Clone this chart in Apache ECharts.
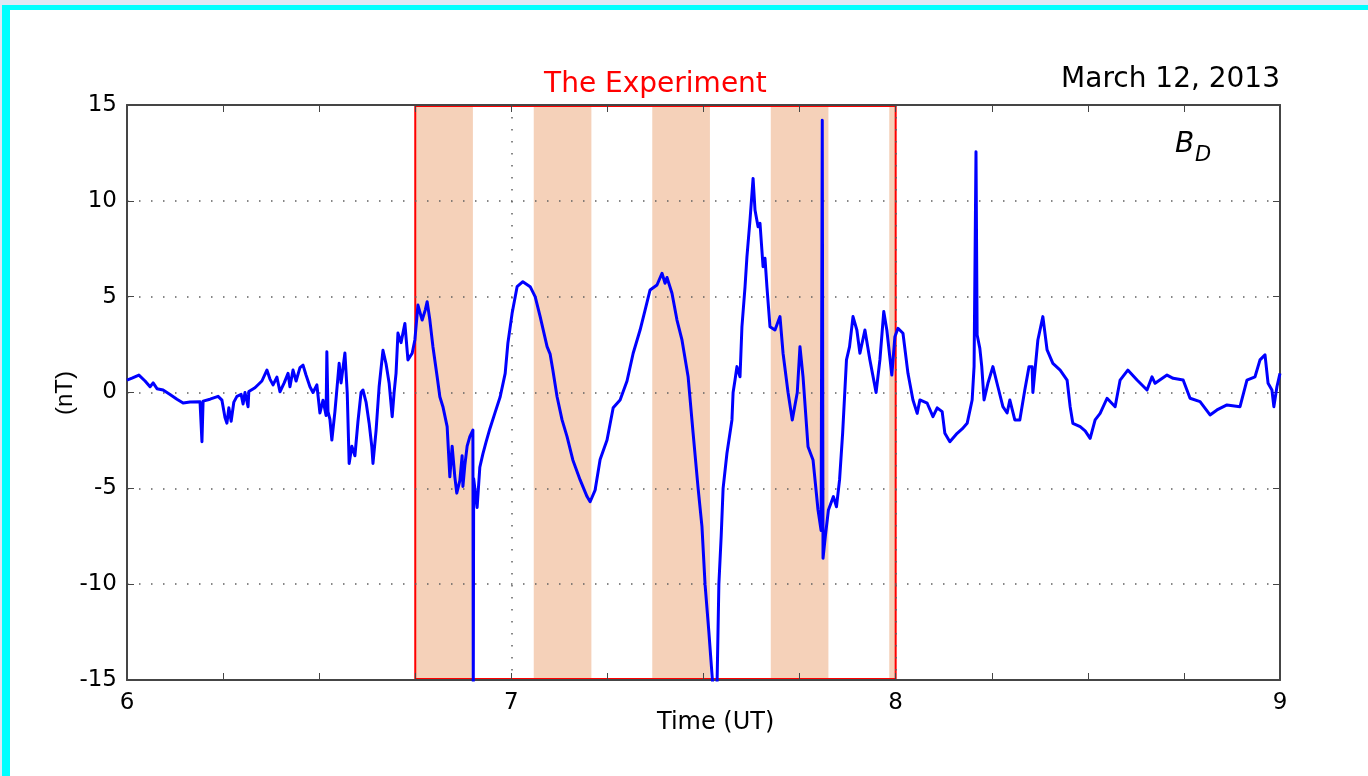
<!DOCTYPE html>
<html>
<head>
<meta charset="utf-8">
<script src="https://cdn.jsdelivr.net/npm/echarts@6/dist/echarts.min.js"></script>
<style>
  html, body { margin: 0; padding: 0; width: 1368px; height: 776px; overflow: hidden; background: #dfe8f4; }
  #frame { position: absolute; left: 2px; top: 5px; width: 1358px; height: 767px; background: #ffffff;
           border-left: 8px solid #00ffff; border-top: 5px solid #00ffff; border-bottom: 2px solid #c8ffff; }
  #chart { position: absolute; left: 0; top: 0; width: 1368px; height: 776px; }
</style>
</head>
<body>
<div id="frame"></div>
<div id="chart"></div>
<script>
// ---- data (time in decimal hours UT, B_D in nT) ----
const bdPre = [
  [6.000,0.65],[6.013,0.75],[6.031,0.91],[6.047,0.6],[6.060,0.3],[6.068,0.5],[6.078,0.2],[6.094,0.13],
  [6.112,-0.1],[6.130,-0.35],[6.146,-0.55],[6.164,-0.5],[6.190,-0.48],[6.195,-2.57],[6.198,-0.45],
  [6.216,-0.35],[6.237,-0.2],[6.247,-0.4],[6.255,-1.3],[6.260,-1.6],[6.265,-0.8],[6.271,-1.5],[6.278,-0.5],
  [6.286,-0.2],[6.297,-0.1],[6.302,-0.6],[6.307,0.0],[6.315,-0.74],[6.317,0.05],[6.333,0.25],[6.351,0.6],
  [6.364,1.17],[6.372,0.7],[6.380,0.4],[6.390,0.8],[6.398,0.04],[6.409,0.5],[6.419,1.0],[6.424,0.3],
  [6.432,1.17],[6.440,0.6],[6.450,1.3],[6.458,1.43],[6.466,0.9],[6.476,0.3],[6.484,0.0],[6.494,0.4],
  [6.502,-1.07],[6.510,-0.4],[6.518,-1.2],[6.520,2.13],[6.523,-1.0],[6.528,-1.4],[6.533,-2.48],[6.541,-1.0],
  [6.552,1.52],[6.557,0.5],[6.567,2.06],[6.573,0.0],[6.578,-3.7],[6.585,-2.8],[6.593,-3.3],[6.601,-1.5],
  [6.609,0.0],[6.614,0.13],[6.622,-0.5],[6.630,-1.6],[6.637,-2.83],[6.640,-3.7],[6.648,-2.0],[6.656,0.3],
  [6.666,2.2],[6.674,1.5],[6.682,0.5],[6.690,-1.26],[6.695,0.0],[6.700,1.0],[6.705,3.1],[6.713,2.6],
  [6.723,3.6],[6.731,1.7],[6.742,2.05],[6.749,2.74]
];
const bdExperiment = [
  [6.757,4.56],[6.768,3.78],[6.776,4.3],[6.781,4.74],[6.788,3.78],[6.796,2.39],[6.807,0.82],[6.814,-0.22],
  [6.822,-0.74],[6.833,-1.78],[6.840,-4.4],[6.846,-2.8],[6.853,-4.4],[6.858,-5.25],[6.866,-4.6],[6.872,-3.3],
  [6.874,-4.9],[6.879,-3.8],[6.885,-2.8],[6.892,-2.3],[6.900,-1.96],[6.901,-15.5],[6.902,-4.5],[6.911,-6.0],
  [6.918,-3.9],[6.926,-3.2],[6.934,-2.6],[6.944,-1.9],[6.957,-1.09],[6.971,-0.22],[6.984,1.0],[6.991,2.57],
  [7.002,4.13],[7.015,5.52],[7.030,5.78],[7.049,5.52],[7.062,5.0],[7.075,3.96],[7.093,2.39],[7.101,2.0],
  [7.108,1.17],[7.119,-0.22],[7.132,-1.43],[7.145,-2.3],[7.160,-3.52],[7.179,-4.56],[7.197,-5.43],[7.205,-5.7],
  [7.218,-5.09],[7.231,-3.5],[7.249,-2.48],[7.265,-0.8],[7.283,-0.39],[7.301,0.6],[7.317,2.05],[7.335,3.26],
  [7.348,4.3],[7.361,5.35],[7.379,5.61],[7.392,6.22],[7.400,5.7],[7.405,6.0],[7.418,5.18],[7.431,3.78],
  [7.444,2.74],[7.460,0.82],[7.473,-2.13],[7.486,-5.0],[7.496,-7.0],[7.504,-10.0],[7.514,-12.5],[7.525,-15.5],
  [7.535,-15.5],[7.540,-10.0],[7.546,-7.5],[7.551,-5.0],[7.561,-3.17],[7.574,-1.43],[7.577,0.0],[7.582,0.65],
  [7.587,1.35],[7.595,0.82],[7.600,3.43],[7.608,5.5],[7.613,7.08],[7.621,9.0],[7.629,11.17],[7.634,9.52],
  [7.642,8.65],[7.647,8.83],[7.655,6.56],[7.660,7.0],[7.665,5.52],[7.673,3.43],[7.686,3.26],[7.699,3.96],
  [7.707,2.05],[7.720,0.0],[7.731,-1.43],[7.744,0.0],[7.751,2.39],[7.759,0.82],[7.772,-2.83],[7.785,-3.52],
  [7.798,-6.13],[7.806,-7.2],[7.809,14.2],[7.811,-8.65],[7.817,-7.5],[7.825,-6.13],[7.838,-5.43],[7.846,-5.96],
  [7.854,-4.56],[7.862,-2.13],[7.872,1.7],[7.880,2.39],[7.889,3.96],[7.899,3.26],[7.907,2.05],[7.920,3.26],
  [7.933,1.7],[7.949,0.0],[7.959,1.7],[7.969,4.22],[7.977,3.26],[7.990,0.91],[7.998,2.91]
];
const bdPost = [
  [8.006,3.35],[8.019,3.09],[8.032,1.0],[8.045,-0.39],[8.056,-1.09],[8.063,-0.39],[8.082,-0.56],[8.097,-1.26],
  [8.108,-0.8],[8.121,-1.0],[8.128,-2.13],[8.141,-2.57],[8.160,-2.13],[8.173,-1.9],[8.186,-1.61],[8.199,-0.39],
  [8.204,1.35],[8.209,12.56],[8.212,3.0],[8.219,2.3],[8.224,1.35],[8.230,-0.39],[8.240,0.48],[8.253,1.35],
  [8.266,0.3],[8.279,-0.74],[8.290,-1.07],[8.297,-0.39],[8.310,-1.43],[8.323,-1.43],[8.336,0.13],[8.347,1.35],
  [8.355,1.35],[8.357,0.0],[8.370,2.74],[8.383,3.96],[8.394,2.22],[8.409,1.52],[8.428,1.17],[8.446,0.65],
  [8.454,-0.74],[8.461,-1.61],[8.480,-1.78],[8.493,-2.0],[8.506,-2.39],[8.519,-1.43],[8.532,-1.09],[8.550,-0.3],
  [8.571,-0.74],[8.584,0.65],[8.604,1.17],[8.628,0.65],[8.654,0.13],[8.667,0.82],[8.675,0.48],[8.706,0.91],
  [8.722,0.74],[8.748,0.65],[8.766,-0.3],[8.792,-0.48],[8.818,-1.17],[8.836,-0.91],[8.862,-0.65],[8.896,-0.74],
  [8.914,0.65],[8.935,0.82],[8.948,1.7],[8.961,1.96],[8.969,0.48],[8.979,0.13],[8.984,-0.74],[8.992,0.3],[9.000,1.0]
];
// shaded intervals (hours UT)
const bandStarts = [6.75, 7.0583, 7.3667, 7.675, 7.9833];
const bandEnds   = [6.90, 7.2083, 7.5167, 7.825, 8.0];
// experiment window (time) and its vertical extent (nT)
const experimentWindow = [6.75, 8.0];
const experimentRange = [-14.95, 14.95];
const xTickValues = [6, 7, 8, 9];
const yTickValues = [-15, -10, -5, 0, 5, 10, 15];

const titleText = 'March 12, 2013';
const experimentText = 'The Experiment';

const chart = echarts.init(document.getElementById('chart'), null, { renderer: 'canvas' });
const FONT = 'DejaVu Sans';
const axisColor = '#454545';
const dotted = { color: '#606060', width: 1.5, type: [1.5, 10.5] };

const commonX = {
  type: 'value', min: xTickValues[0], max: xTickValues[xTickValues.length - 1], interval: 1,
  axisLine: { show: true, onZero: false, lineStyle: { color: axisColor, width: 2 } },
  axisTick: { show: true, inside: true, length: 7, lineStyle: { color: axisColor, width: 1 } },
  minorTick: { show: true, splitNumber: 4, length: 7, lineStyle: { color: axisColor, width: 1 } },
  z: 2
};
const commonY = {
  type: 'value', min: yTickValues[0], max: yTickValues[yTickValues.length - 1], interval: 5,
  axisLine: { show: true, onZero: false, lineStyle: { color: axisColor, width: 2 } },
  axisTick: { show: true, inside: true, length: 7, lineStyle: { color: axisColor, width: 1 } },
  z: 2
};

const option = {
  animation: false,
  backgroundColor: 'transparent',
  grid: { left: 127, right: 88, top: 105, bottom: 96, outerBoundsMode: 'none', containLabel: false },
  xAxis: [
    Object.assign({}, commonX, {
      position: 'bottom',
      axisLabel: { show: true, margin: 12, color: '#000', fontFamily: FONT, fontSize: 23 },
      splitLine: { show: true, lineStyle: dotted }
    }),
    Object.assign({}, commonX, {
      position: 'top',
      axisLabel: { show: false },
      splitLine: { show: false }
    })
  ],
  yAxis: [
    Object.assign({}, commonY, {
      position: 'left',
      axisLabel: { show: true, margin: 10, color: '#000', fontFamily: FONT, fontSize: 23 },
      splitLine: { show: true, lineStyle: dotted }
    }),
    Object.assign({}, commonY, {
      position: 'right',
      axisLabel: { show: false },
      splitLine: { show: false }
    })
  ],
  series: [
    {
      name: 'bands', type: 'line', data: [], z: 1,
      markArea: {
        silent: true,
        itemStyle: { color: '#f5d1b9', opacity: 1 },
        data: bandStarts.map((s, i) => [{ xAxis: s }, { xAxis: bandEnds[i] }])
      }
    },
    {
      name: 'BD', type: 'line', z: 3,
      data: bdPre.concat(bdExperiment, bdPost),
      showSymbol: false, symbol: 'none', clip: true,
      lineStyle: { color: '#0000ff', width: 3, join: 'round' }
    },
    {
      name: 'experiment', type: 'line', data: [], z: 4,
      markArea: {
        silent: true,
        itemStyle: { color: 'rgba(0,0,0,0)', borderColor: '#ff0000', borderWidth: 2 },
        label: { show: true, position: 'top', distance: 6, formatter: experimentText,
                 color: '#ff0000', fontFamily: FONT, fontSize: 28 },
        data: [[{ xAxis: experimentWindow[0], yAxis: experimentRange[0] },
                { xAxis: experimentWindow[1], yAxis: experimentRange[1] }]]
      }
    }
  ],
  graphic: [
    { type: 'text', right: 88, top: 66, z: 10,
      style: { text: titleText, fill: '#000', font: '28px "DejaVu Sans"', textAlign: 'right' } },
    { type: 'text', left: 1175, top: 131, z: 10,
      style: { text: 'B', fill: '#000', font: 'italic 28px "DejaVu Sans"' } },
    { type: 'text', left: 1195, top: 145, z: 10,
      style: { text: 'D', fill: '#000', font: 'italic 21px "DejaVu Sans"' } },
    { type: 'text', left: 657, top: 711, z: 10,
      style: { text: 'Time (UT)', fill: '#000', font: '24px "DejaVu Sans"' } },
    { type: 'text', x: 65, y: 393, rotation: Math.PI / 2, z: 10,
      style: { text: '(nT)', fill: '#000', font: '24px "Liberation Sans"', textAlign: 'center', textVerticalAlign: 'middle' } }
  ]
};
chart.setOption(option);
</script>
</body>
</html>
